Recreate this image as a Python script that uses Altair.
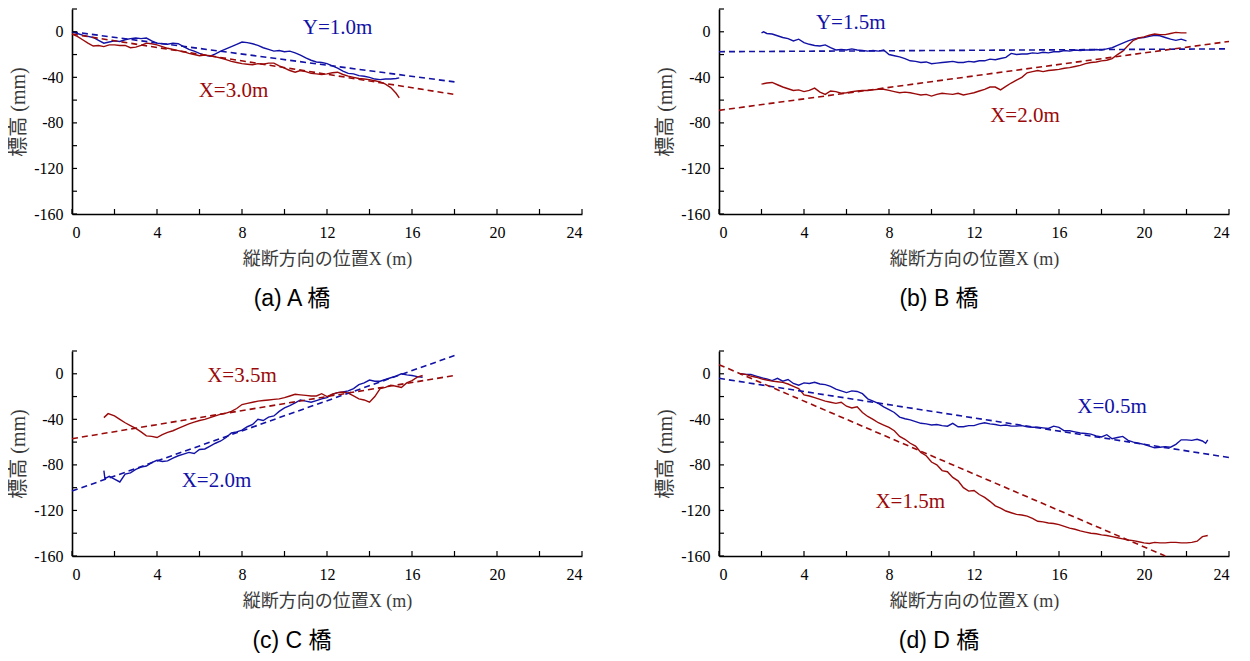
import altair as alt
import pandas as pd

BLUE = "#1212a6"
RED = "#9a0a0a"
SERIF = "Liberation Serif"
CJK = "Liberation Serif, Noto Sans CJK JP"
SANS = "Liberation Sans, Noto Sans CJK JP"

X_TICKS = [0, 2, 4, 6, 8, 10, 12, 14, 16, 18, 20, 22, 24]
X_LABELS = [0, 4, 8, 12, 16, 20, 24]
Y_TICKS = [-160, -140, -120, -100, -80, -60, -40, -20, 0, 20]
Y_LABELS = [-160, -120, -80, -40, 0]

# ---- (a) A橋 ----
A_BLUE = [(0,0),(0.25,-1.5),(0.5,-3),(0.75,-4),(1,-5),(1.25,-7.5),(1.5,-10),(1.75,-9),(2,-8),(2.25,-8.5),
          (2.5,-7),(2.75,-6),(3,-5.5),(3.25,-6),(3.5,-5.5),(3.75,-8),(4,-10),(4.25,-10.5),(4.5,-11),(4.75,-10),
          (5,-10.5),(5.25,-13),(5.5,-15.5),(5.75,-17),(6,-19),(6.25,-20.5),(6.5,-21.5),(6.75,-19.5),(7,-17),
          (7.25,-15),(7.5,-13),(7.75,-11),(8,-9),(8.25,-9.5),(8.5,-10.5),(8.75,-12),(9,-14),(9.25,-15.5),
          (9.5,-17),(9.75,-16.5),(10,-17.5),(10.25,-17),(10.5,-18.5),(10.75,-20.5),(11,-23),(11.25,-25),
          (11.5,-26.5),(11.75,-27),(12,-28),(12.25,-30),(12.5,-32),(12.75,-34.5),(13,-36.5),(13.25,-37),
          (13.5,-38.5),(13.75,-39),(14,-40),(14.25,-41.5),(14.5,-42),(14.75,-41.5),(15,-41.5),(15.25,-41),(15.4,-40.5)]
A_RED = [(0,-2),(0.25,-4),(0.5,-7),(0.75,-10),(1,-12.5),(1.25,-12),(1.5,-13),(1.75,-11.5),(2,-11.5),(2.25,-12),
         (2.5,-12),(2.75,-14),(3,-13.5),(3.25,-12),(3.5,-10),(3.75,-10.5),(4,-11.5),(4.25,-13),(4.5,-14.5),
         (4.75,-15.5),(5,-16.5),(5.25,-17.5),(5.5,-19),(5.75,-20),(6,-21),(6.25,-20.5),(6.5,-21),(6.75,-22),
         (7,-23),(7.25,-24.5),(7.5,-26),(7.75,-27),(8,-28),(8.25,-28.5),(8.5,-29),(8.75,-28),(9,-28.5),
         (9.25,-27.5),(9.5,-27.5),(9.75,-30),(10,-32),(10.25,-34),(10.5,-35.5),(10.75,-34),(11,-35),
         (11.25,-36.5),(11.5,-37),(11.75,-37.5),(12,-37),(12.25,-36),(12.5,-35.5),(12.75,-37.5),(13,-39),
         (13.25,-40),(13.5,-41),(13.75,-41.5),(14,-42),(14.25,-43),(14.5,-44),(14.75,-46),(15,-49),
         (15.25,-54),(15.4,-58)]
A_BLUE_FIT = [(0, 0), (18, -44)]
A_RED_FIT = [(0, -2), (18, -55)]
A_LABELS = [("Y=1.0m", 12.5, 3.5, "blue"), ("X=3.0m", 7.6, -52, "red")]

# ---- (b) B橋 ----
B_BLUE = [(2,-1),(2.1,0),(2.25,-1.5),(2.5,-2),(2.75,-3.5),(3,-5),(3.25,-6),(3.5,-8),(3.75,-6.5),(4,-9.5),
          (4.25,-11),(4.5,-12),(4.75,-12.5),(5,-11.5),(5.25,-14),(5.5,-16),(5.75,-15.5),(6,-16),(6.25,-15),
          (6.5,-16),(6.75,-16.5),(7,-17),(7.25,-16.5),(7.5,-17),(7.75,-16),(8,-20),(8.25,-21),(8.5,-22),
          (8.75,-23.5),(9,-25.5),(9.25,-26),(9.5,-27),(9.75,-26.5),(10,-28),(10.25,-27.5),(10.5,-27),
          (10.75,-26.5),(11,-26),(11.25,-27),(11.5,-27),(11.75,-26),(12,-26.5),(12.25,-25.5),(12.5,-25.5),
          (12.75,-24),(13,-24.5),(13.25,-23.5),(13.5,-22.5),(13.75,-19),(14,-20),(14.25,-19.5),(14.5,-19.5),
          (14.75,-18.5),(15,-19),(15.25,-18),(15.5,-18.5),(15.75,-17.5),(16,-17.5),(16.25,-16.5),(16.5,-17),
          (16.75,-16),(17,-16.5),(17.25,-16),(17.5,-16),(17.75,-15.5),(18,-16),(18.25,-15),(18.5,-14),
          (18.75,-12),(19,-10),(19.25,-8),(19.5,-6.5),(19.75,-5.5),(20,-5),(20.25,-4),(20.5,-3),(20.75,-3.5),
          (21,-5),(21.25,-6.5),(21.5,-7.5),(21.75,-6.5),(22,-8)]
B_RED = [(2,-46),(2.25,-45),(2.5,-44.5),(2.75,-46.5),(3,-48.5),(3.25,-50),(3.5,-51.5),(3.75,-51),(4,-52.5),
         (4.25,-51.5),(4.5,-49.5),(4.75,-53),(5,-55),(5.25,-52),(5.5,-52.5),(5.75,-54),(6,-53.5),(6.25,-52.5),
         (6.5,-52),(6.75,-51.5),(7,-51.5),(7.25,-51),(7.5,-50.5),(7.75,-50.5),(8,-51.5),(8.25,-52.5),
         (8.5,-53.5),(8.75,-53),(9,-53.5),(9.25,-54.5),(9.5,-55.5),(9.75,-55),(10,-56.5),(10.25,-55),
         (10.5,-54),(10.75,-54.5),(11,-55),(11.25,-54),(11.5,-55.5),(11.75,-54.5),(12,-53.5),(12.25,-52),
         (12.5,-50.5),(12.75,-48.5),(13,-48.5),(13.25,-51),(13.5,-48),(13.75,-45),(14,-42.5),(14.25,-40),
         (14.5,-36),(14.75,-35),(15,-34),(15.25,-35),(15.5,-34),(15.75,-33.5),(16,-33),(16.25,-32),
         (16.5,-31.5),(16.75,-30.5),(17,-29.5),(17.25,-28),(17.5,-27),(17.75,-26.5),(18,-25.5),(18.25,-25),
         (18.5,-23.5),(18.75,-20),(19,-17),(19.25,-12),(19.5,-7.5),(19.75,-5.5),(20,-4.5),(20.25,-3),
         (20.5,-2),(20.75,-2.5),(21,-2.5),(21.25,-1.5),(21.5,-0.5),(21.75,-1),(22,-1)]
B_BLUE_FIT = [(0, -17.5), (24, -15)]
B_RED_FIT = [(0, -69), (24, -8.5)]
B_LABELS = [("Y=1.5m", 6.2, 8, "blue"), ("X=2.0m", 14.4, -74, "red")]

# ---- (c) C橋 ----
C_BLUE = [(1.5,-85),(1.55,-92),(1.75,-90),(2,-92.5),(2.25,-95),(2.5,-88),(2.75,-87),(3,-84),(3.25,-82),
          (3.5,-81),(3.75,-78),(4,-76),(4.25,-77),(4.5,-76.5),(4.75,-74),(5,-72),(5.25,-70.5),(5.5,-69),
          (5.75,-70),(6,-66.5),(6.25,-66),(6.5,-63.5),(6.75,-61),(7,-59),(7.25,-56),(7.5,-52),(7.75,-51),
          (8,-49.5),(8.25,-46.5),(8.5,-44.5),(8.75,-40),(9,-41),(9.25,-38),(9.5,-37),(9.75,-33),(10,-30),
          (10.25,-28),(10.5,-25.5),(10.75,-23),(11,-24),(11.25,-25),(11.5,-23.5),(11.75,-22),(12,-21),
          (12.25,-18),(12.5,-16.5),(12.75,-16),(13,-15),(13.25,-13),(13.5,-9.5),(13.75,-8),(14,-5.5),
          (14.25,-6.5),(14.5,-6.5),(14.75,-5),(15,-3.5),(15.25,-2),(15.5,0),(15.75,-1),(16,-1.5),
          (16.25,-2.5),(16.5,-3)]
C_RED = [(1.5,-38.5),(1.7,-35),(2,-37),(2.25,-40),(2.5,-43),(2.75,-45.5),(3,-48),(3.25,-51),(3.5,-54.5),
         (3.75,-55),(4,-56),(4.25,-53.5),(4.5,-51.5),(4.75,-50),(5,-48),(5.25,-46),(5.5,-44),(5.75,-42.5),
         (6,-41),(6.25,-40),(6.5,-38.5),(6.75,-37),(7,-35.5),(7.25,-34.5),(7.5,-33),(7.75,-30.5),(8,-27),
         (8.25,-26),(8.5,-25),(8.75,-24),(9,-23.5),(9.25,-23),(9.5,-22.5),(9.75,-22),(10,-21),(10.25,-19.5),
         (10.5,-18),(10.75,-18.5),(11,-19),(11.25,-19.5),(11.5,-19.5),(11.75,-17.5),(12,-20),(12.25,-18),
         (12.5,-16.5),(12.75,-16),(13,-17),(13.25,-19.5),(13.5,-22),(13.75,-23),(14,-25),(14.25,-20),
         (14.5,-13),(14.75,-12),(15,-10),(15.25,-11),(15.5,-12),(15.75,-8),(16,-6),(16.25,-3),(16.5,-1.5)]
C_BLUE_FIT = [(0, -103), (18, 16)]
C_RED_FIT = [(0, -57), (18, -1.5)]
C_LABELS = [("X=3.5m", 8.0, -2, "red"), ("X=2.0m", 6.8, -94, "blue")]

# ---- (d) D橋 ----
D_BLUE = [(1,0),(1.25,-0.5),(1.5,-0.5),(1.75,-2),(2,-3.5),(2.25,-4.5),(2.5,-6),(2.75,-4),(3,-6.5),(3.25,-5),
          (3.5,-8.5),(3.75,-10),(4,-8),(4.25,-8.5),(4.5,-7.5),(4.75,-9),(5,-9.5),(5.25,-11),(5.5,-13.5),
          (5.75,-15),(6,-16.5),(6.25,-15),(6.5,-15.5),(6.75,-17.5),(7,-22),(7.25,-24),(7.5,-26),(7.75,-29),
          (8,-31.5),(8.25,-34),(8.5,-38),(8.75,-39.5),(9,-40.5),(9.25,-42),(9.5,-43.5),(9.75,-44),(10,-45),
          (10.25,-44.5),(10.5,-45.5),(10.75,-46),(11,-43.5),(11.25,-46.5),(11.5,-46.5),(11.75,-45.5),
          (12,-45.5),(12.25,-44),(12.5,-43),(12.75,-44),(13,-44.5),(13.25,-45.5),(13.5,-45),(13.75,-46),
          (14,-46),(14.25,-45.5),(14.5,-46.5),(14.75,-47),(15,-47),(15.25,-47.5),(15.5,-48),(15.75,-46),
          (16,-47),(16.25,-50),(16.5,-50),(16.75,-51),(17,-52),(17.25,-52.5),(17.5,-53),(17.75,-54.5),
          (18,-55.5),(18.25,-53.5),(18.5,-57),(18.75,-56),(19,-55),(19.25,-58.5),(19.5,-60),(19.75,-61),
          (20,-62),(20.25,-63.5),(20.5,-65),(20.75,-64.5),(21,-64),(21.25,-64.5),(21.5,-62),(21.75,-58),
          (22,-58),(22.25,-58.5),(22.5,-57.5),(22.75,-59),(22.9,-61),(23,-58)]
D_RED = [(1,0),(1.25,-0.5),(1.5,-2),(1.75,-3),(2,-4.5),(2.25,-5.5),(2.5,-6.5),(2.75,-7),(3,-7.5),(3.25,-9),
         (3.5,-11),(3.75,-13),(4,-18.5),(4.25,-19.5),(4.5,-21),(4.75,-22.5),(5,-24),(5.25,-25),(5.5,-26),
         (5.75,-25),(6,-28.5),(6.25,-30),(6.5,-29),(6.75,-34),(7,-37.5),(7.25,-40),(7.5,-43),(7.75,-45),
         (8,-47),(8.25,-50),(8.5,-55),(8.75,-57.5),(9,-61),(9.25,-63.5),(9.5,-69),(9.75,-72),(10,-77.5),
         (10.25,-80),(10.5,-85),(10.75,-86),(11,-91),(11.25,-94),(11.5,-100),(11.75,-103),(12,-102.5),
         (12.25,-106),(12.5,-108.5),(12.75,-112),(13,-116),(13.25,-118),(13.5,-120.5),(13.75,-122),
         (14,-123.5),(14.25,-124),(14.5,-125),(14.75,-127),(15,-129.5),(15.25,-130),(15.5,-131),
         (15.75,-131.5),(16,-132.5),(16.25,-134),(16.5,-135.5),(16.75,-136.5),(17,-138),(17.25,-139),
         (17.5,-140),(17.75,-140.5),(18,-141.5),(18.25,-142),(18.5,-143),(18.75,-144),(19,-145),
         (19.25,-146),(19.5,-146.5),(19.75,-147.5),(20,-148.5),(20.25,-149),(20.5,-148),(20.75,-148.5),
         (21,-148.5),(21.25,-148),(21.5,-148),(21.75,-148.5),(22,-148.5),(22.25,-148),(22.5,-147),
         (22.75,-143),(23,-142)]
D_BLUE_FIT = [(0, -4), (24, -73.5)]
D_RED_FIT = [(0, 8), (21, -160)]
D_LABELS = [("X=0.5m", 18.5, -29, "blue"), ("X=1.5m", 9.0, -112.5, "red")]

W, H = 510, 205
XDOM = [0, 24]
YDOM = [-160, 20]
COLORS = {"blue": BLUE, "red": RED}

AXIS_X = alt.Axis(values=X_LABELS, ticks=False, grid=False, domainColor="black", domainWidth=1.6,
                  labelFont=SERIF, labelFontSize=16, labelColor="black", labelPadding=10,
                  labelExpr="toString(datum.value)",
                  title="縦断方向の位置X (m)", titleFont=CJK, titleFontSize=18,
                  titleFontWeight="normal", titleColor="#3a3a3a", titlePadding=10)
AXIS_Y = alt.Axis(values=Y_LABELS, ticks=False, grid=False, domainColor="black", domainWidth=1.6,
                  labelFont=SERIF, labelFontSize=16, labelColor="black", labelPadding=9,
                  labelExpr="toString(datum.value)",
                  title="標高 (mm)", titleFont=CJK, titleFontSize=20,
                  titleFontWeight="normal", titleColor="#3a3a3a", titlePadding=5)


def xs():
    return alt.X("x:Q", scale=alt.Scale(domain=XDOM, nice=False, zero=False), axis=AXIS_X)


def ys():
    return alt.Y("y:Q", scale=alt.Scale(domain=YDOM, nice=False, zero=False), axis=AXIS_Y)


def panel(blue, red, bfit, rfit, labels, caption):
    dblue = pd.DataFrame(blue, columns=["x", "y"])
    dred = pd.DataFrame(red, columns=["x", "y"])
    fblue = pd.DataFrame(bfit, columns=["x", "y"])
    fred = pd.DataFrame(rfit, columns=["x", "y"])
    lab = pd.DataFrame(labels, columns=["t", "x", "y", "c"])
    lab["col"] = lab["c"].map(COLORS)
    xt = pd.DataFrame({"x": X_TICKS})
    yt = pd.DataFrame({"y": Y_TICKS})

    layers = [
        alt.Chart(dblue).mark_line(color=BLUE, strokeWidth=1.4).encode(x=xs(), y=ys()),
        alt.Chart(dred).mark_line(color=RED, strokeWidth=1.4).encode(x=xs(), y=ys()),
        alt.Chart(fblue).mark_line(color=BLUE, strokeWidth=1.6, strokeDash=[6, 4]).encode(x=xs(), y=ys()),
        alt.Chart(fred).mark_line(color=RED, strokeWidth=1.6, strokeDash=[6, 4]).encode(x=xs(), y=ys()),
        alt.Chart(xt).mark_rule(color="black", strokeWidth=1.2).encode(
            x=xs(), y=alt.value(H), y2=alt.value(H - 5)),
        alt.Chart(yt).mark_rule(color="black", strokeWidth=1.2).encode(
            y=ys(), x=alt.value(0), x2=alt.value(5)),
        alt.Chart(lab).mark_text(font=SERIF, fontSize=21, align="center", baseline="middle").encode(
            x=xs(), y=ys(), text="t:N", color=alt.Color("col:N", scale=None)),
    ]
    return alt.layer(*layers).properties(
        width=W, height=H,
        title=alt.TitleParams(caption, orient="bottom", anchor="middle", font=SANS,
                              fontSize=23, fontWeight="normal", color="black", offset=20, dx=-35),
    )


pa = panel(A_BLUE, A_RED, A_BLUE_FIT, A_RED_FIT, A_LABELS, "(a) A 橋")
pb = panel(B_BLUE, B_RED, B_BLUE_FIT, B_RED_FIT, B_LABELS, "(b) B 橋")
pc = panel(C_BLUE, C_RED, C_BLUE_FIT, C_RED_FIT, C_LABELS, "(c) C 橋")
pd_ = panel(D_BLUE, D_RED, D_BLUE_FIT, D_RED_FIT, D_LABELS, "(d) D 橋")

chart = alt.concat(pa, pb, pc, pd_, columns=2, spacing=137, bounds="flush").properties(
    padding={"left": 0, "top": 0, "right": 0, "bottom": 0}
).configure_view(stroke=None)

chart.save("out.html", embed_options={"renderer": "svg", "actions": False})
